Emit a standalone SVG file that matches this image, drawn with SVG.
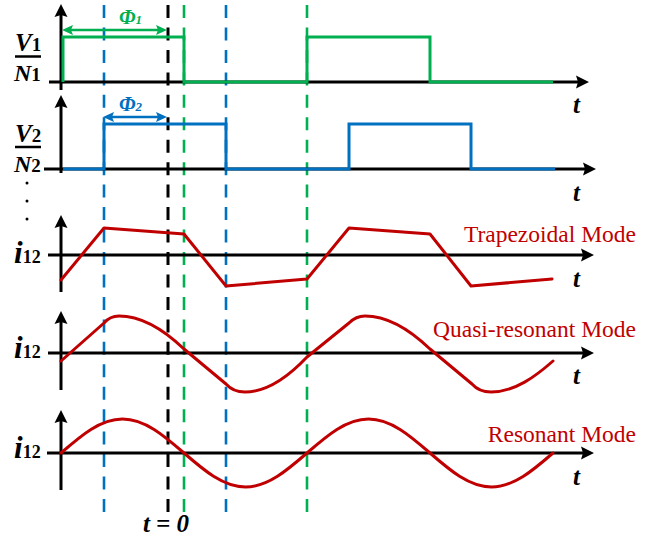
<svg xmlns="http://www.w3.org/2000/svg" width="653" height="538" viewBox="0 0 653 538">
<defs>
<marker id="ax" markerUnits="userSpaceOnUse" markerWidth="14" markerHeight="14" viewBox="0 0 14 14" refX="6" refY="7" orient="auto">
<path d="M0,0.5 L13,7 L0,13.5 L2,7 z" fill="#000"/>
</marker>
<marker id="ag" markerUnits="userSpaceOnUse" markerWidth="12" markerHeight="12" viewBox="0 0 12 12" refX="6" refY="6" orient="auto-start-reverse">
<path d="M0,1 L11,6 L0,11 L2,6 z" fill="#00B050"/>
</marker>
<marker id="ab" markerUnits="userSpaceOnUse" markerWidth="12" markerHeight="12" viewBox="0 0 12 12" refX="6" refY="6" orient="auto-start-reverse">
<path d="M0,1 L11,6 L0,11 L2,6 z" fill="#0070C0"/>
</marker>
<path id="dl" d="M0,5 V18 M0,27.5 V40.5 M0,49.9 V62.9 M0,72.4 V85.4 M0,94.8 V107.8 M0,117.3 V130.3 M0,139.7 V152.7 M0,162.2 V175.2 M0,184.6 V197.6 M0,207.1 V220.1 M0,229.5 V242.5 M0,252 V265 M0,274.5 V287.5 M0,296.9 V309.9 M0,319.4 V332.4 M0,341.8 V354.8 M0,364.3 V377.3 M0,386.7 V399.7 M0,409.2 V422.2 M0,431.6 V444.6 M0,454.1 V467.1 M0,476.5 V489.5 M0,499 V512"/>
</defs>
<style>
.axis{stroke:#000;stroke-width:3;fill:none;marker-end:url(#ax)}
.wg{fill:none;stroke:#00B050;stroke-width:3}
.wb{fill:none;stroke:#0070C0;stroke-width:3}
.wr{fill:none;stroke:#C00000;stroke-width:3;stroke-linejoin:round;stroke-linecap:round}
.lab{font-family:"Liberation Serif",serif;font-weight:bold}
.it{font-style:italic}
.t{font-family:"Liberation Serif",serif;font-weight:bold;font-style:italic;font-size:25px}
.mode{font-family:"Liberation Serif",serif;font-size:23.5px;fill:#C00000;text-anchor:end}
</style>

<g id="dashed-lines" fill="none" stroke-width="2.6">
<use href="#dl" x="104" stroke="#0070C0"/>
<use href="#dl" x="168" stroke="#000" stroke-width="3"/>
<use href="#dl" x="184" stroke="#00B050"/>
<use href="#dl" x="226" stroke="#0070C0"/>
<use href="#dl" x="307" stroke="#00B050"/>
</g>

<g id="axes">
<line class="axis" x1="61" y1="90" x2="61" y2="11"/>
<line class="axis" x1="49" y1="82" x2="582" y2="82"/>
<line class="axis" x1="61" y1="173" x2="61" y2="102"/>
<line class="axis" x1="44" y1="169" x2="589" y2="169"/>
<line class="axis" x1="61" y1="292" x2="61" y2="222"/>
<line class="axis" x1="48" y1="255" x2="587" y2="255"/>
<line class="axis" x1="61" y1="390" x2="61" y2="318"/>
<line class="axis" x1="48" y1="353" x2="587" y2="353"/>
<line class="axis" x1="61" y1="490" x2="61" y2="417"/>
<line class="axis" x1="47" y1="453" x2="587" y2="453"/>
</g>

<g id="v1-wave">
<path class="wg" d="M63,82 L63,37 L184,37 L184,82 L307,82 L307,37 L430,37 L430,82 L553,82"/>
<line x1="67" y1="30" x2="162" y2="30" stroke="#00B050" stroke-width="2.5" marker-start="url(#ag)" marker-end="url(#ag)"/>
<text x="119" y="24" class="lab it" font-size="21" fill="#00B050">Φ<tspan font-size="13">1</tspan></text>
</g>

<g id="v2-wave">
<path class="wb" d="M63,169 L104,169 L104,124 L226,124 L226,169 L349,169 L349,124 L471,124 L471,169 L555,169"/>
<line x1="108" y1="117" x2="162" y2="117" stroke="#0070C0" stroke-width="2.5" marker-start="url(#ab)" marker-end="url(#ab)"/>
<text x="119" y="111" class="lab it" font-size="21" fill="#0070C0">Φ<tspan font-size="13">2</tspan></text>
</g>

<g id="trapezoidal">
<path class="wr" d="M61,280 L104,228 L184,234 L226,286 L307,279 L349,228 L430,234 L471,286 L552,279"/>
<text class="mode" x="636" y="242">Trapezoidal Mode</text>
</g>

<g id="quasi-resonant">
<path class="wr" d="M61,361 L104,323 Q110,316 119,316 C140,316 162,328 184,349 L226,384 Q233,392 245,392 C268,392 290,375 307,357 L349,323 Q356,316 365,316 C386,316 408,328 430,349 L472,384 Q479,392 491,392 C515,392 536,376 553,361"/>
<text class="mode" x="636" y="337">Quasi-resonant Mode</text>
</g>

<g id="resonant">
<path class="wr" d="M61,453 C81.06,435.58 100.24,419 122.5,419 C144.76,419 163.94,435.58 184,453 C204.06,470.42 223.24,487 245.5,487 C267.76,487 286.94,470.42 307,453 C327.06,435.58 346.24,419 368.5,419 C390.76,419 409.94,435.58 430,453 C450.06,470.42 469.24,487 491.5,487 C513.76,487 532.94,470.42 553,453"/>
<text class="mode" x="636" y="442">Resonant Mode</text>
</g>

<g id="labels">
<text class="lab" x="15" y="51" font-size="25"><tspan class="it">V</tspan><tspan font-size="19">1</tspan></text>
<line x1="15" y1="56.5" x2="41" y2="56.5" stroke="#000" stroke-width="2.5"/>
<text class="lab" x="14" y="81" font-size="24"><tspan class="it">N</tspan><tspan font-size="19">1</tspan></text>
<text class="lab" x="15" y="142" font-size="25"><tspan class="it">V</tspan><tspan font-size="19">2</tspan></text>
<line x1="15" y1="147" x2="41" y2="147" stroke="#000" stroke-width="2.5"/>
<text class="lab" x="14" y="172" font-size="24"><tspan class="it">N</tspan><tspan font-size="19">2</tspan></text>
<circle cx="27" cy="183" r="1.5" fill="#000"/>
<circle cx="27" cy="201" r="1.5" fill="#000"/>
<circle cx="27" cy="219" r="1.5" fill="#000"/>
<text class="lab" x="14" y="263" font-size="31"><tspan class="it">i</tspan><tspan font-size="18">12</tspan></text>
<text class="lab" x="14" y="358" font-size="31"><tspan class="it">i</tspan><tspan font-size="18">12</tspan></text>
<text class="lab" x="14" y="458" font-size="31"><tspan class="it">i</tspan><tspan font-size="18">12</tspan></text>
<text class="t" x="573" y="113">t</text>
<text class="t" x="573" y="201">t</text>
<text class="t" x="573" y="287">t</text>
<text class="t" x="573" y="384">t</text>
<text class="t" x="573" y="485">t</text>
<text class="t" x="166" y="532" font-size="22" text-anchor="middle">t = 0</text>
</g>
</svg>
